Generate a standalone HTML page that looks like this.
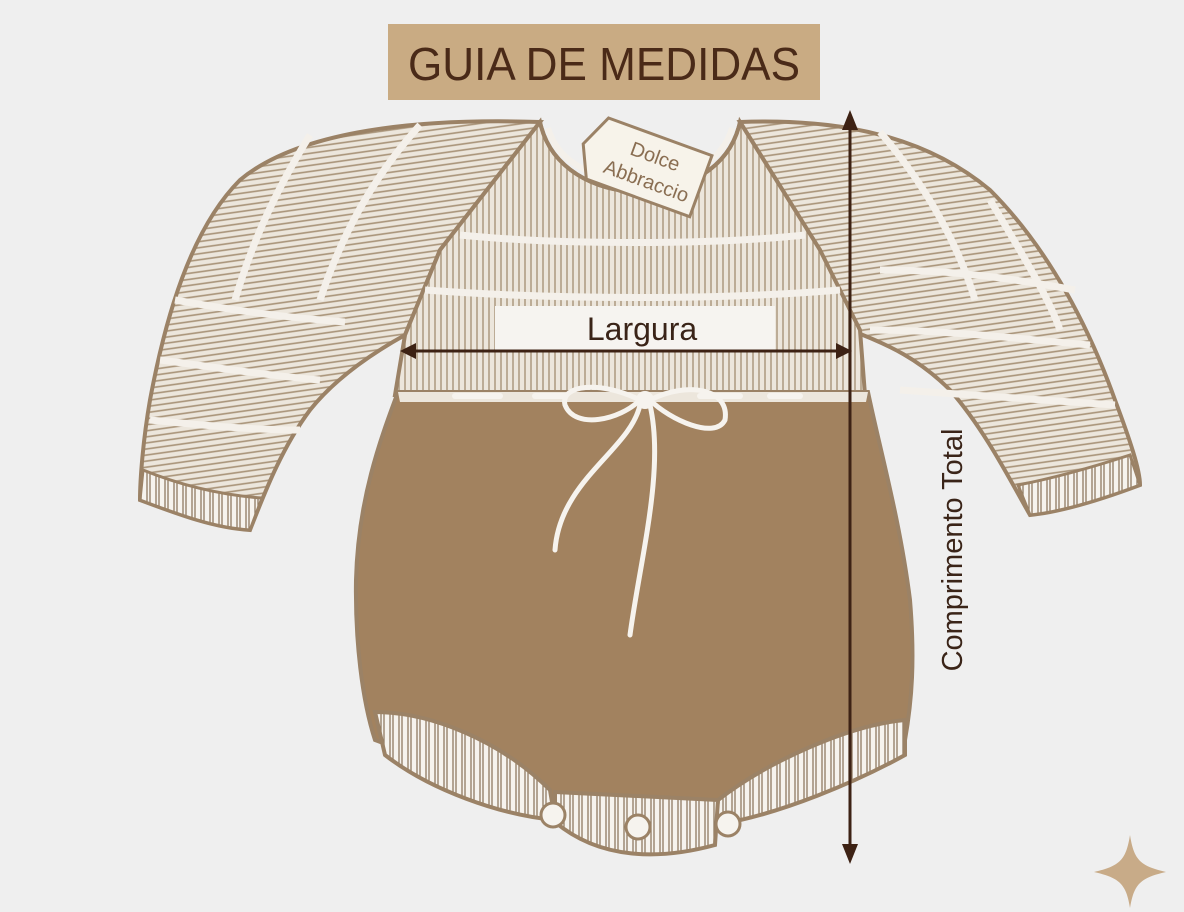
<!DOCTYPE html>
<html><head><meta charset="utf-8"><style>
html,body{margin:0;padding:0;background:#efefef;}
svg{display:block}
</style></head><body>
<svg width="1184" height="912" viewBox="0 0 1184 912" xmlns="http://www.w3.org/2000/svg">
<defs>
<pattern id="knit" width="8" height="6" patternUnits="userSpaceOnUse" patternTransform="rotate(-8)">
<rect width="8" height="6" fill="#ece6dc"/>
<line x1="0" y1="3" x2="8" y2="3" stroke="#a89378" stroke-width="1.6"/>
</pattern>
<pattern id="knitv" width="6" height="8" patternUnits="userSpaceOnUse">
<rect width="6" height="8" fill="#ece6dc"/>
<line x1="3" y1="0" x2="3" y2="8" stroke="#a89378" stroke-width="1.4"/>
</pattern>
<pattern id="rib" width="9" height="10" patternUnits="userSpaceOnUse">
<rect width="9" height="10" fill="#f6f3ee"/>
<line x1="3" y1="0" x2="3" y2="10" stroke="#8f7a62" stroke-width="1.3"/>
<line x1="6" y1="0" x2="6" y2="10" stroke="#8f7a62" stroke-width="1.3"/>
</pattern>
</defs>
<rect width="1184" height="912" fill="#efefef"/>
<!-- title -->
<rect x="388" y="24" width="432" height="76" fill="#c9ab83"/>
<text x="604" y="80" text-anchor="middle" font-family="'Liberation Sans',sans-serif" font-size="46" fill="#4a2a18" textLength="392" lengthAdjust="spacingAndGlyphs">GUIA DE MEDIDAS</text>

<!-- left sleeve -->
<path d="M540,122 C420,118 300,130 240,180 C190,230 165,320 150,400 C143,440 140,480 140,500 C180,515 215,528 250,530 C262,500 280,450 310,410 C330,385 360,360 405,335 L440,250 Z" fill="url(#knit)" stroke="#9b8266" stroke-width="4"/>
<path d="M143,470 C180,485 220,495 262,498 L250,530 C215,528 180,515 140,500Z" fill="url(#rib)" stroke="#9b8266" stroke-width="3"/>
<!-- right sleeve -->
<path d="M740,122 C850,118 930,140 990,190 C1050,250 1090,330 1115,400 C1130,440 1140,470 1140,485 C1100,500 1060,512 1030,515 C1010,480 985,430 950,390 C920,360 890,345 850,330 L820,250 Z" fill="url(#knit)" stroke="#9b8266" stroke-width="4"/>
<path d="M1130,455 C1090,468 1055,478 1018,485 L1030,515 C1060,512 1100,500 1140,485Z" fill="url(#rib)" stroke="#9b8266" stroke-width="3"/>
<!-- sleeve stripes -->
<g stroke="#f4f0ea" stroke-width="7" fill="none">
<path d="M310,135 C270,200 250,250 235,300"/>
<path d="M420,125 C370,180 340,240 320,300"/>
<path d="M160,360 C200,365 260,375 320,380"/>
<path d="M150,420 C200,425 250,430 300,430"/>
<path d="M175,300 C230,310 290,318 345,322"/>
<path d="M880,132 C930,190 960,250 975,300"/>
<path d="M990,200 C1020,250 1050,300 1060,330"/>
<path d="M870,330 C950,330 1030,340 1090,345"/>
<path d="M900,390 C980,395 1050,400 1115,405"/>
<path d="M880,270 C960,270 1020,280 1075,290"/>
</g>
<!-- yoke -->
<path d="M440,250 L540,122 C560,215 720,215 740,122 L820,250 L860,330 L865,395 L395,395 L405,335 Z" fill="url(#knitv)" stroke="#9b8266" stroke-width="4"/>
<g stroke="#f4f0ea" stroke-width="7" fill="none">
<path d="M460,235 C560,245 710,245 805,235"/>
<path d="M425,290 C560,300 720,300 840,290"/>
</g>
<path d="M540,122 C560,215 720,215 740,122" fill="none" stroke="#9b8266" stroke-width="4"/>
<path d="M548,128 C568,200 712,200 732,128" fill="none" stroke="#f4f0ea" stroke-width="6"/>
<!-- tag -->
<g transform="rotate(20 650 165)">
<path d="M595,135 L705,135 L705,200 L595,200 L580,168 Z" fill="#f7f3ea" stroke="#9b8266" stroke-width="3"/>
<text x="652" y="162" text-anchor="middle" font-family="'Liberation Sans',sans-serif" font-size="20" fill="#8a6e52">Dolce</text>
<text x="652" y="188" text-anchor="middle" font-family="'Liberation Sans',sans-serif" font-size="20" fill="#8a6e52">Abbraccio</text>
</g>

<!-- body -->
<path d="M398,392 L868,392 C880,450 900,520 910,600 C915,660 912,700 905,740 C850,760 780,800 720,815 L560,812 C500,790 430,760 375,740 C362,700 355,640 356,580 C358,500 380,440 398,392 Z" fill="#a2825f" stroke="#9b8266" stroke-width="4"/>
<path d="M398,392 L868,392 L866,402 L400,402Z" fill="#ece6dc"/>
<!-- waist dashes -->
<g stroke="#f6f3ee" stroke-width="6" stroke-linecap="round">
<line x1="455" y1="396" x2="500" y2="396"/><line x1="535" y1="396" x2="565" y2="396"/>
<line x1="700" y1="396" x2="740" y2="396"/><line x1="770" y1="396" x2="800" y2="396"/>
</g>
<!-- bow -->
<g stroke="#f6f3ee" stroke-width="5" fill="none" stroke-linecap="round">
<path d="M640,400 C600,380 560,385 565,405 C575,430 620,420 640,400"/>
<path d="M650,400 C690,380 730,390 725,420 C715,440 670,420 650,400"/>
<path d="M640,405 C630,450 560,480 555,550"/>
<path d="M650,405 C665,470 640,560 630,635"/>
</g>
<circle cx="645" cy="400" r="9" fill="#f6f3ee"/>
<!-- leg cuffs -->
<path d="M375,712 C430,712 500,740 550,790 L555,820 C500,815 430,790 385,755 Z" fill="url(#rib)" stroke="#9b8266" stroke-width="4"/>
<path d="M905,720 C850,725 770,760 718,800 L715,825 C780,815 860,780 905,755 Z" fill="url(#rib)" stroke="#9b8266" stroke-width="4"/>
<path d="M555,792 L718,800 L715,845 C660,860 600,860 555,822 Z" fill="url(#rib)" stroke="#9b8266" stroke-width="4"/>
<g fill="#f6f3ee" stroke="#9b8266" stroke-width="3">
<circle cx="553" cy="815" r="12"/><circle cx="638" cy="827" r="12"/><circle cx="728" cy="824" r="12"/>
</g>

<!-- largura label -->
<rect x="495" y="306" width="280" height="44" fill="#f6f4f0"/>
<text x="642" y="340" text-anchor="middle" font-family="'Liberation Sans',sans-serif" font-size="32" fill="#3a2418">Largura</text>
<g stroke="#3d2214" stroke-width="3" fill="#3d2214">
<line x1="412" y1="351" x2="838" y2="351"/>
<path d="M400,351 L416,343 L416,359Z" stroke="none"/>
<path d="M852,351 L836,343 L836,359Z" stroke="none"/>
<line x1="850" y1="124" x2="850" y2="850"/>
<path d="M850,110 L842,130 L858,130Z" stroke="none"/>
<path d="M850,864 L842,844 L858,844Z" stroke="none"/>
</g>
<text transform="translate(962,550) rotate(-90)" text-anchor="middle" font-family="'Liberation Sans',sans-serif" font-size="29" fill="#3a2418">Comprimento Total</text>
<!-- star -->
<path d="M1130,835 C1134,860 1140,866 1166,872 C1140,878 1134,884 1130,908 C1126,884 1120,878 1094,872 C1120,866 1126,860 1130,835Z" fill="#c8ab88"/>
</svg>
</body></html>
